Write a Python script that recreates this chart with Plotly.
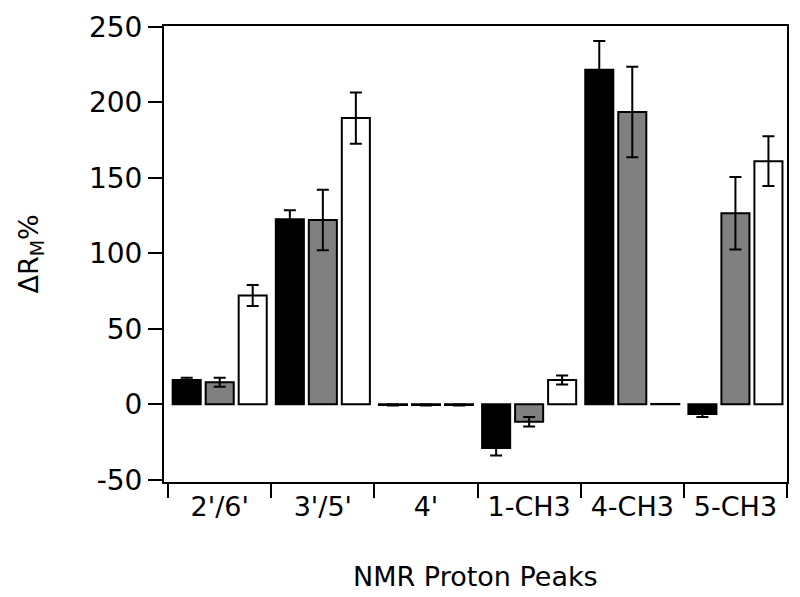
import plotly.graph_objects as go

peaks = ["2'/6'", "3'/5'", "4'", "1-CH3", "4-CH3", "5-CH3"]

black_vals = [16, 122.5, -0.5, -29, 221.5, -6.5]
black_err = [1.5, 6, 0.3, 5, 19, 2]

gray_vals = [14.5, 122, -0.5, -11.6, 193.5, 126.5]
gray_err = [3, 20, 0.3, 3.2, 30, 24]

white_vals = [72, 189.5, -0.5, 16, 0.2, 161]
white_err = [7, 17, 0.3, 3, 0, 16.5]

y_ticks = [-50, 0, 50, 100, 150, 200, 250]
y_ticktext = ["-50", "0", "50", "100", "150", "200", "250"]

font = "DejaVu Sans"

fig = go.Figure()
for vals, errs, color in [(black_vals, black_err, "#000000"),
                          (gray_vals, gray_err, "#808080"),
                          (white_vals, white_err, "#ffffff")]:
    fig.add_trace(go.Bar(
        x=peaks, y=vals,
        marker=dict(color=color, line=dict(color="black", width=2)),
        error_y=dict(type="data", array=errs, visible=True,
                     color="black", thickness=2, width=6),
        showlegend=False,
    ))

fig.update_layout(
    barmode="group",
    bargap=0.04,
    bargroupgap=0.15,
    width=800, height=597,
    margin=dict(l=164, r=11, t=24, b=115),
    paper_bgcolor="white",
    plot_bgcolor="white",
    font=dict(family=font, size=28, color="black"),
    xaxis=dict(
        range=[-0.54, 5.5],
        showline=True, linecolor="black", linewidth=2, mirror=True,
        ticks="outside", tickson="boundaries", ticklen=14, tickwidth=2,
        tickcolor="black", showgrid=False, zeroline=False,
        tickfont=dict(size=27),
    ),
    yaxis=dict(
        range=[-51.5, 250.5],
        tickvals=y_ticks, ticktext=y_ticktext,
        showline=True, linecolor="black", linewidth=2, mirror=True,
        ticks="outside", ticklen=14, tickwidth=2, tickcolor="black",
        showgrid=False, zeroline=False,
        tickfont=dict(size=28),
    ),
    annotations=[
        dict(text="ΔR<sub>M</sub>%", textangle=-90, showarrow=False,
             xref="paper", yref="paper", x=-134 / 625, y=0.5,
             xanchor="center", yanchor="middle", font=dict(size=27)),
        dict(text="NMR Proton Peaks", showarrow=False,
             xref="paper", yref="paper", x=0.5, y=-95 / 458,
             xanchor="center", yanchor="middle", font=dict(size=27)),
    ],
)

fig.write_html("out.html", config={"displayModeBar": False},
               post_script="document.body.style.margin='0';")
